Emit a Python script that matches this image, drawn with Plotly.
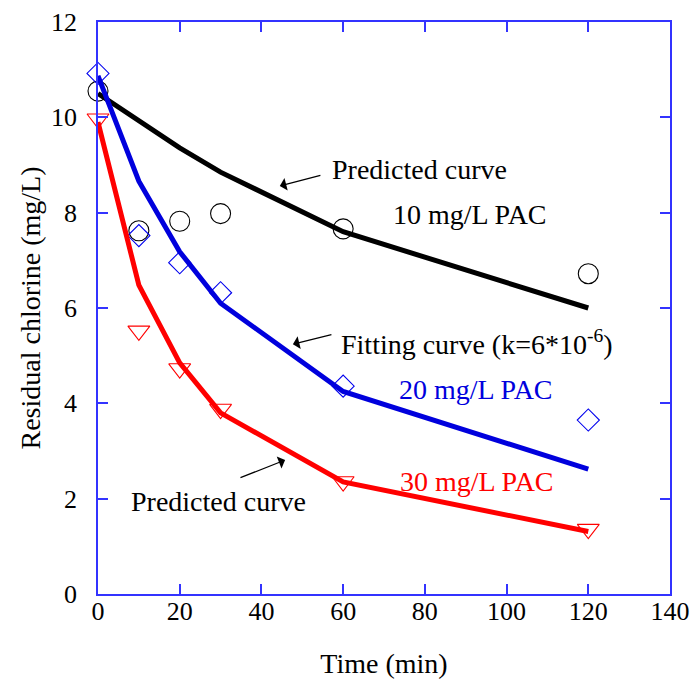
import plotly.graph_objects as go

# Measured data (time in min, residual chlorine in mg/L)
time = [0, 10, 20, 30, 60, 120]

pac10_obs = [10.55, 7.62, 7.82, 7.98, 7.66, 6.72]
pac20_obs = [10.92, 7.52, 6.95, 6.32, 4.36, 3.65]
pac30_obs = [9.97, 5.52, 4.73, 3.88, 2.36, 1.36]

# Model curves
pac10_pred = [10.5, 9.93, 9.36, 8.85, 7.6, 6.0]
pac20_fit = [10.87, 8.66, 7.18, 6.1, 4.25, 2.62]
pac30_pred = [9.9, 6.48, 4.85, 3.8, 2.35, 1.31]

x_ticks = [0, 20, 40, 60, 80, 100, 120, 140]
y_ticks = [0, 2, 4, 6, 8, 10, 12]

FONT = "Liberation Serif"
BLUE_AX = "#3333ff"

fig = go.Figure()

fig.add_trace(go.Scatter(x=time, y=pac10_obs, mode="markers",
                         marker=dict(symbol="circle-open", size=20, color="black",
                                     line=dict(width=1.1, color="black")),
                         showlegend=False, cliponaxis=False))
fig.add_trace(go.Scatter(x=time, y=pac20_obs, mode="markers",
                         marker=dict(symbol="diamond-open", size=17, color="#0000ee",
                                     line=dict(width=1.1, color="#0000ee")),
                         showlegend=False, cliponaxis=False))
fig.add_trace(go.Scatter(x=time, y=pac30_obs, mode="markers",
                         marker=dict(symbol="triangle-down-open", size=19, color="#ff0000",
                                     line=dict(width=1.1, color="#ff0000")),
                         showlegend=False, cliponaxis=False))

fig.add_trace(go.Scatter(x=time, y=pac10_pred, mode="lines",
                         line=dict(color="black", width=5), showlegend=False))
fig.add_trace(go.Scatter(x=time, y=pac20_fit, mode="lines",
                         line=dict(color="#0000dd", width=5), showlegend=False))
fig.add_trace(go.Scatter(x=time, y=pac30_pred, mode="lines",
                         line=dict(color="#ff0000", width=5), showlegend=False))

def txt(x, y, s, color="black"):
    fig.add_annotation(x=x, y=y, text=s, showarrow=False, xref="x", yref="y",
                       font=dict(family=FONT, size=28, color=color))

def arrow(x_head, y_head, x_tail, y_tail):
    fig.add_annotation(x=x_head, y=y_head, ax=x_tail, ay=y_tail, axref="x", ayref="y",
                       xref="x", yref="y", text="", showarrow=True,
                       arrowhead=1, arrowsize=1.8, arrowwidth=1.2, arrowcolor="black")

txt(78.6, 8.9, "Predicted curve")
txt(91.0, 7.97, "10 mg/L PAC")
txt(92.8, 5.27, "Fitting curve (k=6*10<sup>-6</sup>)")
txt(92.5, 4.30, "20 mg/L PAC", "#0000dd")
txt(92.8, 2.37, "30 mg/L PAC", "#ff0000")
txt(29.6, 1.95, "Predicted curve")

arrow(44.5, 8.56, 54.8, 8.79)
arrow(47.7, 5.24, 57.5, 5.45)
arrow(45.8, 2.81, 34.5, 2.43)

axis_common = dict(showgrid=False, zeroline=False, showline=True, linecolor=BLUE_AX,
                   linewidth=1.5, mirror="ticks", ticks="inside", ticklen=10,
                   tickcolor=BLUE_AX, tickwidth=1.5, automargin=False,
                   tickfont=dict(family=FONT, size=26, color="black"))

fig.update_layout(
    width=694, height=686,
    margin=dict(l=98, r=24, t=22, b=92, autoexpand=False),
    paper_bgcolor="white", plot_bgcolor="white",
    font=dict(family=FONT),
    xaxis=dict(range=[0, 140], tickvals=x_ticks, ticklabelstandoff=-7,
               title=dict(text="Time (min)", font=dict(family=FONT, size=28, color="black"),
                          standoff=28),
               **axis_common),
    yaxis=dict(range=[0, 12], tickvals=y_ticks, ticklabelstandoff=14,
               title=dict(text="Residual chlorine (mg/L)",
                          font=dict(family=FONT, size=28, color="black"), standoff=2),
               **axis_common),
)

fig.write_html("out.html")
